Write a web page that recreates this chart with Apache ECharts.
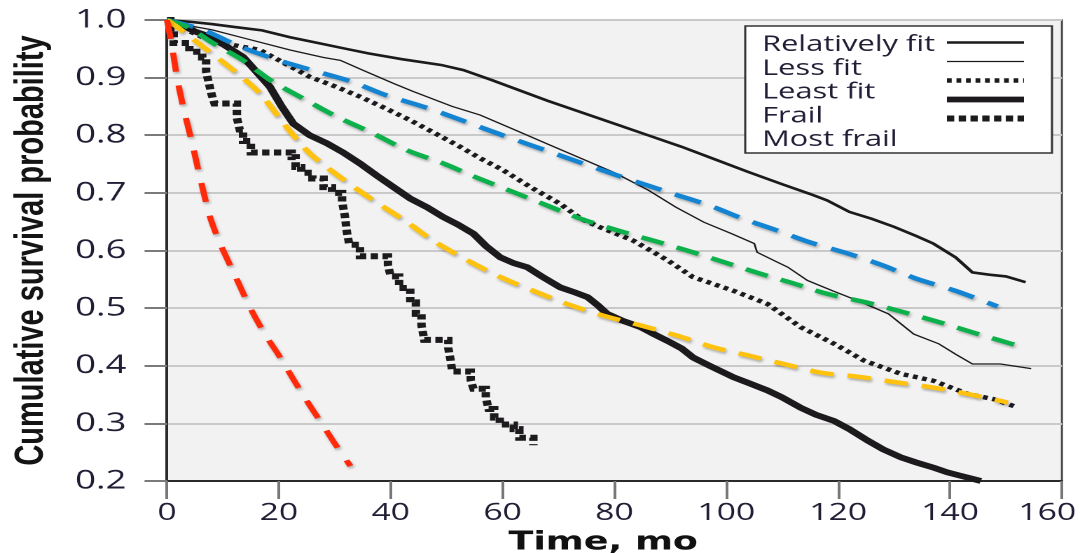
<!DOCTYPE html>
<html>
<head>
<meta charset="utf-8">
<title>Cumulative survival by frailty group</title>
<script src="https://cdn.jsdelivr.net/npm/echarts@6/dist/echarts.min.js"></script>
<style>
  html, body { margin: 0; padding: 0; background: #ffffff; overflow: hidden; }
  #wrap { width: 1080px; height: 553px; overflow: hidden; }
  /* the figure uses a horizontally widened typeface, so the drawing is stretched sideways */
  #chart { width: 771px; height: 553px; transform: scaleX(1.40078); transform-origin: 0 0; }
</style>
</head>
<body>
<div id="wrap"><div id="chart"></div></div>
<script>
// Axis ticks
const xTicks = [0, 20, 40, 60, 80, 100, 120, 140, 160];
const yTicks = ['0.2', '0.3', '0.4', '0.5', '0.6', '0.7', '0.8', '0.9', '1.0'];

// Group names
const groupNames = ['Relatively fit', 'Less fit', 'Least fit', 'Frail', 'Most frail'];

// Observed survival, [time in months, cumulative survival]
const relativelyFit = [[0,1],[4,0.997],[8,0.993],[12,0.988],[17,0.982],[22,0.97],[27,0.96],[32,0.95],[36,0.942],[42,0.932],[49,0.922],[53,0.913],[58,0.896],[63,0.878],[68,0.86],[74,0.84],[80,0.82],[86,0.8],[92,0.78],[98,0.758],[104,0.736],[110,0.715],[115,0.698],[118,0.687],[122,0.667],[126,0.655],[130,0.641],[134,0.625],[137,0.612],[141,0.588],[144,0.562],[147,0.558],[150,0.555],[153.5,0.545]];
const lessFit = [[0,1],[4,0.99],[8,0.983],[14,0.968],[22,0.948],[28,0.935],[31,0.93],[35,0.913],[40.5,0.89],[44,0.876],[51,0.85],[56,0.835],[62,0.81],[68,0.785],[74,0.76],[80,0.735],[86,0.705],[91,0.675],[96,0.649],[101,0.629],[105,0.612],[105.5,0.597],[108,0.585],[111,0.571],[114.5,0.548],[119,0.53],[123.5,0.513],[129,0.49],[133.5,0.455],[138,0.438],[141,0.42],[144,0.403],[149,0.403],[154.5,0.395]];
const leastFit = [[0,1],[3,0.985],[6.4,0.97],[10,0.96],[16.6,0.948],[21,0.925],[25.6,0.901],[30,0.885],[34.5,0.867],[39,0.847],[43.5,0.826],[48,0.803],[52.4,0.78],[56,0.76],[60,0.74],[65,0.71],[70.3,0.681],[74,0.655],[77.5,0.64],[83.4,0.617],[89.5,0.583],[94,0.554],[101.3,0.53],[107.4,0.507],[113.3,0.467],[119.3,0.438],[124.6,0.409],[131.2,0.386],[137,0.374],[143.2,0.351],[147.8,0.342],[151.4,0.33]];
const frail = [[0,1],[3,0.99],[5,0.98],[7.7,0.971],[10.5,0.955],[13.6,0.936],[16,0.91],[18.4,0.884],[20.5,0.85],[22.6,0.82],[25.5,0.8],[28.6,0.786],[31.5,0.77],[34.5,0.751],[37.5,0.73],[40.5,0.71],[43.5,0.69],[46.5,0.675],[49.4,0.658],[52,0.645],[54.8,0.629],[57,0.608],[59.6,0.588],[62,0.578],[64.4,0.571],[67,0.555],[70.3,0.536],[73,0.527],[75.2,0.519],[77,0.505],[78.7,0.49],[81.5,0.478],[84.7,0.467],[87,0.455],[89.5,0.443],[92,0.43],[94.1,0.414],[97,0.4],[101.3,0.38],[104,0.37],[107.4,0.357],[110,0.345],[113.3,0.327],[116,0.315],[119.3,0.304],[122,0.29],[125.3,0.27],[128,0.255],[131.2,0.241],[134,0.232],[137.1,0.223],[139.5,0.215],[141.9,0.209],[144.3,0.203],[145.5,0.2]];
// event times with survival after each drop (drawn as steps)
const mostFrail = [[0,1],[0.6,0.975],[1.2,0.96],[4,0.945],[6.3,0.935],[7,0.91],[7.5,0.89],[8,0.87],[8.5,0.855],[12.5,0.83],[13,0.81],[13.6,0.79],[15,0.77],[22.3,0.762],[23,0.745],[24,0.735],[26,0.725],[28,0.71],[29.5,0.7],[31.3,0.685],[31.8,0.66],[32.2,0.63],[32.6,0.61],[34.5,0.59],[39.5,0.575],[40,0.555],[41.5,0.535],[43.5,0.51],[44.5,0.49],[45.5,0.47],[46,0.445],[50.3,0.43],[50.7,0.41],[51,0.39],[54.3,0.375],[54.8,0.36],[57,0.345],[57.5,0.325],[58.5,0.31],[59.5,0.298],[62,0.29],[63,0.275],[65.5,0.262]];

// Predicted survival curves
const predBlue = [[0,1],[6.4,0.983],[13,0.954],[20,0.93],[27,0.91],[33,0.893],[39,0.87],[46,0.849],[51,0.832],[60,0.8],[70,0.766],[80,0.732],[90,0.7],[97,0.678],[103,0.655],[109,0.635],[115,0.614],[122,0.594],[128,0.574],[134,0.551],[141,0.53],[148.5,0.503]];
const predGreen = [[0,1],[3.6,0.988],[8.2,0.96],[13.6,0.93],[18.4,0.896],[24.3,0.864],[30.4,0.832],[36.9,0.803],[42.9,0.774],[49.4,0.751],[55,0.728],[61,0.705],[68,0.678],[74,0.655],[80.5,0.635],[87,0.617],[93,0.6],[99.5,0.58],[106,0.56],[112,0.543],[118,0.525],[125,0.51],[131.7,0.493],[138.3,0.475],[145,0.455],[151,0.438],[153,0.432]];
const predYellow = [[0,1],[1.8,0.988],[6.4,0.954],[12.5,0.908],[16.6,0.873],[21.4,0.814],[25.6,0.768],[31,0.727],[36.9,0.687],[42.5,0.652],[47.6,0.617],[53.7,0.583],[59.6,0.554],[65.5,0.53],[71.6,0.507],[78,0.487],[84.7,0.47],[91.3,0.452],[97.7,0.432],[104.3,0.417],[110.3,0.403],[116.9,0.388],[123.5,0.381],[130.6,0.371],[137.1,0.362],[143.2,0.351],[149,0.339],[150.3,0.336]];
const predRed = [[0,1],[0.8,0.96],[1.8,0.9],[2.9,0.849],[4.5,0.786],[5.9,0.727],[7.7,0.658],[9.5,0.612],[12,0.56],[14.9,0.5],[17.5,0.455],[20.2,0.415],[23,0.37],[25.6,0.33],[28,0.295],[30,0.265],[32.8,0.226]];

// Line styles for the observed groups (also used by the legend samples)
const groupLines = [
  { width: 2.6, type: 'solid' },
  { width: 1.3, type: 'solid' },
  { width: 4.4, type: [3.4, 3.4] },
  { width: 5.8, type: 'solid' },
  { width: 6, type: [5.2, 3.2] }
];
const groupData = [relativelyFit, lessFit, leastFit, frail, mostFrail];

const INK = '#1c1a1c';
const TEXT = '#211d35';

const observedSeries = groupNames.map((name, i) => ({
  name: name,
  type: 'line',
  data: groupData[i],
  step: name === 'Most frail' ? 'end' : false,
  symbol: 'none',
  z: 3,
  lineStyle: {
    color: INK,
    width: groupLines[i].width,
    type: groupLines[i].type,
    cap: 'butt',
    join: 'miter'
  },
  itemStyle: { color: INK, opacity: 0 },
  emphasis: { disabled: true }
}));

function predicted(data, color, dash) {
  return {
    type: 'line',
    data: data,
    smooth: 0.3,
    symbol: 'none',
    z: 4,
    lineStyle: {
      color: color,
      width: 4.4,
      type: dash,
      cap: 'butt',
      shadowColor: 'rgba(0,0,0,0.28)',
      shadowBlur: 2,
      shadowOffsetX: 1,
      shadowOffsetY: 2
    },
    emphasis: { disabled: true },
    silent: true
  };
}

const chart = echarts.init(document.getElementById('chart'), null, { renderer: 'canvas', devicePixelRatio: 2 });

chart.setOption({
  animation: false,
  backgroundColor: '#ffffff',
  grid: {
    left: 119.2,
    right: 12.9,
    top: 20,
    bottom: 72,
    outerBoundsMode: 'none',
    containLabel: false,
    show: true,
    backgroundColor: '#f2f2f2',
    borderColor: '#4a4a4a',
    borderWidth: 1.5
  },
  xAxis: {
    type: 'value',
    min: xTicks[0],
    max: xTicks[xTicks.length - 1],
    interval: xTicks[1] - xTicks[0],
    name: 'Time, mo',
    nameLocation: 'middle',
    nameGap: 43,
    nameTextStyle: {
      fontFamily: 'DejaVu Sans',
      fontWeight: 'bold',
      fontSize: 26,
      color: '#111111',
      padding: [0, 16, 0, 0]
    },
    axisLine: { show: true, onZero: false, lineStyle: { color: '#2a2a2a', width: 2 } },
    axisTick: { show: true, inside: false, length: 18, lineStyle: { color: '#777777', width: 2 } },
    axisLabel: {
      margin: 20,
      fontFamily: 'Open Sans',
      fontSize: 24,
      color: TEXT,
      formatter: v => v === xTicks[xTicks.length - 1] ? '{last|' + v + '}' : String(v),
      rich: { last: { padding: [0, 21, 0, 0] } }
    },
    splitLine: { show: false }
  },
  yAxis: {
    type: 'value',
    min: Number(yTicks[0]),
    max: Number(yTicks[yTicks.length - 1]),
    interval: 0.1,
    name: 'Cumulative survival probability',
    nameLocation: 'middle',
    nameRotate: 90,
    nameGap: 82,
    nameTextStyle: {
      fontFamily: 'Liberation Sans',
      fontWeight: 'bold',
      fontSize: 29,
      color: '#141414'
    },
    axisLine: { show: true, lineStyle: { color: '#2a2a2a', width: 2 } },
    axisTick: { show: true, inside: false, length: 16, lineStyle: { color: '#7a7a7a', width: 2 } },
    axisLabel: {
      margin: 29,
      fontFamily: 'Open Sans',
      fontSize: 26,
      color: TEXT,
      formatter: v => yTicks.find(t => Math.abs(Number(t) - v) < 1e-6) || v.toFixed(1)
    },
    splitLine: { show: true, lineStyle: { color: '#c9c9c9', width: 2 } }
  },
  graphic: [{
    type: 'rect',
    z: 3,
    shape: { x: 532, y: 26, width: 219, height: 127 },
    style: { fill: '#ffffff', stroke: '#333333', lineWidth: 1.5 }
  }],
  legend: [
    {
      data: groupNames,
      orient: 'vertical',
      left: 539,
      top: 33,
      padding: 0,
      icon: 'none',
      itemWidth: 0,
      itemHeight: 23.75,
      itemGap: 0,
      textStyle: { fontFamily: 'Open Sans', fontSize: 22, color: TEXT, lineHeight: 23.75 }
    },
    {
      data: groupNames.map((n, i) => ({
        name: n,
        itemStyle: { opacity: 0 },
        lineStyle: { width: groupLines[i].width, type: groupLines[i].type, color: INK, cap: 'butt', opacity: 1 }
      })),
      orient: 'vertical',
      left: 673,
      top: 33,
      padding: 0,
      itemWidth: 55,
      itemHeight: 23.75,
      itemGap: 0,
      itemStyle: { opacity: 0, borderWidth: 0 },
      formatter: () => '',
      textStyle: { fontSize: 22, lineHeight: 23.75 }
    }
  ],
  series: observedSeries.concat([
    predicted(predBlue, '#1384d2', [20, 11]),
    predicted(predGreen, '#0cb14b', [17, 10]),
    predicted(predYellow, '#ffc20e', [17, 10]),
    predicted(predRed, '#ff2a0a', [19, 14])
  ])
});
</script>
</body>
</html>
